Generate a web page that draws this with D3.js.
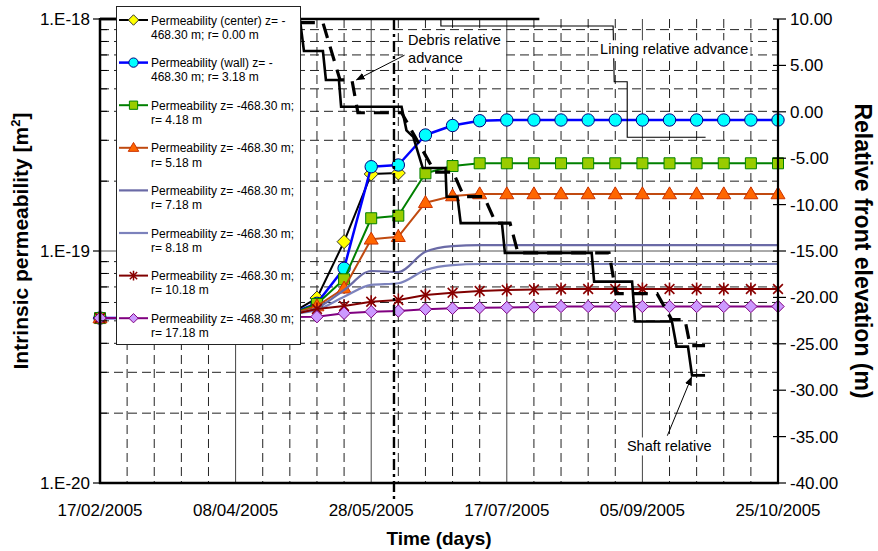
<!DOCTYPE html>
<html><head><meta charset="utf-8">
<script src="https://cdn.jsdelivr.net/npm/d3@7"></script>
<style>
body{margin:0;background:#fff;}
svg{display:block;}
text{font-family:"Liberation Sans",Arial,sans-serif;fill:#000;}
</style>
</head><body>
<svg id="c" width="878" height="551"></svg>
<script>
// ---------------- DATA ----------------
const days = [0,10,20,30,40,50,60,70,80,90,100,110,120,130,140,150,160,170,180,190,200,210,220,230,240,250];
const dateTickDays = [0,50,100,150,200,250];
const dateTickLabels = ["17/02/2005","08/04/2005","28/05/2005","17/07/2005","05/09/2005","25/10/2005"];
const leftTicks = [1e-18,1e-19,1e-20];
const leftTickLabels = ["1.E-18","1.E-19","1.E-20"];
const rightTicks = [10,5,0,-5,-10,-15,-20,-25,-30,-35,-40];

const permCenter = [5.14e-20,5.14e-20,5.14e-20,5.14e-20,5.17e-20,5.195e-20,5.245e-20,5.35e-20,6.27e-20,1.097e-19,2.147e-19,2.168e-19];
const permWall = [5.14e-20,5.14e-20,5.14e-20,5.14e-20,5.17e-20,5.195e-20,5.245e-20,5.35e-20,5.95e-20,8.42e-20,2.308e-19,2.348e-19,3.162e-19,3.475e-19,3.644e-19,3.67e-19,3.67e-19,3.67e-19,3.67e-19,3.67e-19,3.67e-19,3.67e-19,3.67e-19,3.67e-19,3.67e-19,3.67e-19];
const perm418 = [5.14e-20,5.14e-20,5.14e-20,5.14e-20,5.17e-20,5.195e-20,5.245e-20,5.325e-20,5.91e-20,7.55e-20,1.384e-19,1.42e-19,2.162e-19,2.324e-19,2.388e-19,2.388e-19,2.388e-19,2.388e-19,2.388e-19,2.388e-19,2.388e-19,2.388e-19,2.388e-19,2.388e-19,2.388e-19,2.388e-19];
const perm518 = [5.14e-20,5.14e-20,5.14e-20,5.14e-20,5.17e-20,5.195e-20,5.245e-20,5.325e-20,5.79e-20,6.91e-20,1.123e-19,1.152e-19,1.615e-19,1.726e-19,1.761e-19,1.761e-19,1.761e-19,1.761e-19,1.761e-19,1.761e-19,1.761e-19,1.761e-19,1.761e-19,1.761e-19,1.761e-19,1.761e-19];
const perm718 = [5.14e-20,5.14e-20,5.14e-20,5.14e-20,5.17e-20,5.195e-20,5.245e-20,5.35e-20,5.68e-20,6.79e-20,8.20e-20,8.12e-20,9.93e-20,1.05e-19,1.061e-19,1.061e-19,1.061e-19,1.061e-19,1.061e-19,1.061e-19,1.061e-19,1.061e-19,1.061e-19,1.061e-19,1.061e-19,1.061e-19];
const perm818 = [5.14e-20,5.14e-20,5.14e-20,5.14e-20,5.17e-20,5.195e-20,5.245e-20,5.35e-20,5.57e-20,6.35e-20,7.14e-20,7.26e-20,8.28e-20,8.70e-20,8.79e-20,8.79e-20,8.79e-20,8.79e-20,8.79e-20,8.79e-20,8.79e-20,8.79e-20,8.79e-20,8.79e-20,8.79e-20,8.79e-20];
const perm1018 = [5.14e-20,5.14e-20,5.14e-20,5.14e-20,5.154e-20,5.17e-20,5.195e-20,5.30e-20,5.62e-20,5.79e-20,6.045e-20,6.15e-20,6.46e-20,6.61e-20,6.72e-20,6.79e-20,6.82e-20,6.86e-20,6.86e-20,6.86e-20,6.86e-20,6.86e-20,6.86e-20,6.86e-20,6.86e-20,6.86e-20];
const perm1718 = [5.14e-20,5.14e-20,5.14e-20,5.14e-20,5.154e-20,5.17e-20,5.185e-20,5.195e-20,5.21e-20,5.39e-20,5.475e-20,5.51e-20,5.61e-20,5.66e-20,5.70e-20,5.71e-20,5.74e-20,5.765e-20,5.765e-20,5.765e-20,5.765e-20,5.765e-20,5.765e-20,5.765e-20,5.765e-20,5.765e-20];

const shaftDays = [0,73.7,75.2,82.2,83.3,88.1,88.9,111.2,113,115.5,119,127.4,127.8,131.8,133,148.2,149.3,181.3,182.2,196.2,197.3,210.9,212.6,216.8,218.3,223.1];
const shaftElev = [10,10,6.55,6.55,3.43,3.43,0.55,0.55,-2.0,-2.7,-6.06,-6.06,-9.15,-9.15,-12.0,-12.0,-15.2,-15.2,-18.3,-18.3,-22.6,-22.6,-25.3,-25.3,-28.4,-28.4];
const debrisDays = [73.7,82.2,88.5,92.9,95.1,111.2,123.5,130.2,134.2,141.6,146,151.2,154.1,187.7,190.3,205.4,210.8,215.7,217.6,223.1];
const debrisElev = [9.6,9.6,3.43,3.43,-0.1,-0.1,-6.5,-6.5,-9.15,-9.15,-12.0,-12.0,-15.2,-15.2,-19.6,-19.6,-22.4,-22.4,-25.2,-25.2];
const liningDays = [125.7,125.7,189.2,189.6,194.4,194.4,223.3];
const liningElev = [10,9.25,9.25,3.24,3.24,-2.75,-2.75];
const topLineDays = [0,162];
const topLineElev = [10,10];
const eventDay = 108.4;

const legendLabels = [
  ["Permeability (center) z= -","468.30 m; r= 0.00 m"],
  ["Permeability (wall) z= -","468.30 m; r= 3.18 m"],
  ["Permeability z= -468.30 m;","r= 4.18 m"],
  ["Permeability z= -468.30 m;","r= 5.18 m"],
  ["Permeability z= -468.30 m;","r= 7.18 m"],
  ["Permeability z= -468.30 m;","r= 8.18 m"],
  ["Permeability z= -468.30 m;","r= 10.18 m"],
  ["Permeability z= -468.30 m;","r= 17.18 m"]
];

// ---------------- SETUP ----------------
const svg = d3.select("#c");
const L = 100, R = 778, T = 19, B = 483;
const x = d3.scaleLinear().domain([0,250]).range([L,R]);
const yL = d3.scaleLog().domain([1e-20,1e-18]).range([B,T]);
const yR = d3.scaleLinear().domain([-40,10]).range([B,T]);

const series = [
  {vals: permCenter, line:"#000000", w:2, mk:"diamond", fill:"#ffff00", stroke:"#333", size:7},
  {vals: permWall, line:"#0000ff", w:2.5, mk:"circle", fill:"#00ffff", stroke:"#000080", size:6.2},
  {vals: perm418, line:"#008000", w:2, mk:"square", fill:"#99cc00", stroke:"#008000", size:5.5},
  {vals: perm518, line:"#c04a10", w:2, mk:"triangle", fill:"#ff6600", stroke:"#cc3300", size:7},
  {vals: perm718, line:"#6a6aa6", w:2.2, mk:null, curve:true},
  {vals: perm818, line:"#7c82bc", w:2.2, mk:null, curve:true},
  {vals: perm1018, line:"#800000", w:2, mk:"star", fill:"none", stroke:"#8b0000", size:6.5},
  {vals: perm1718, line:"#800080", w:2, mk:"diamond", fill:"#cc99ff", stroke:"#800080", size:6.2}
];

function markerPath(type, s){
  switch(type){
    case "diamond": return `M0,${-s}L${s},0L0,${s}L${-s},0Z`;
    case "circle": { const p=d3.path(); p.arc(0,0,s,0,2*Math.PI); p.closePath(); return p.toString(); }
    case "square": return `M${-s},${-s}H${s}V${s}H${-s}Z`;
    case "triangle": { const h=s*1.7; return `M0,${-h*0.6}L${s},${h*0.4}L${-s},${h*0.4}Z`; }
    case "star": { const d=s*0.75; return `M${-d},${-d}L${d},${d}M${-d},${d}L${d},${-d}M0,${-s}V${s}`; }
  }
  return "";
}

// ---------------- GRID ----------------
const grid = svg.append("g");
const minorVals = [];
[1e-20,1e-19].forEach(dec => { for(let k=2;k<=9;k++) minorVals.push(k*dec); });
grid.selectAll(".hd").data(minorVals).join("line")
  .attr("x1",L).attr("x2",R).attr("y1",d=>yL(d)).attr("y2",d=>yL(d))
  .attr("stroke","#222").attr("stroke-width",1).attr("stroke-dasharray","9,5");
grid.append("line").attr("x1",L).attr("x2",R).attr("y1",yL(1e-19)).attr("y2",yL(1e-19))
  .attr("stroke","#555").attr("stroke-width",1);
const vMinor = days.filter(d => d>0 && d<250 && d%50!==0);
grid.selectAll(".vd").data(vMinor).join("line")
  .attr("x1",d=>x(d)).attr("x2",d=>x(d)).attr("y1",T).attr("y2",B)
  .attr("stroke","#222").attr("stroke-width",1).attr("stroke-dasharray","9,5");
grid.selectAll(".vs").data(dateTickDays.filter(d=>d>0&&d<250)).join("line")
  .attr("x1",d=>x(d)).attr("x2",d=>x(d)).attr("y1",T).attr("y2",B)
  .attr("stroke","#444").attr("stroke-width",1);

// ---------------- PERMEABILITY SERIES ----------------
const gS = svg.append("g");
series.forEach(s => {
  const pts = s.vals.map((v,i)=>[x(days[i]), yL(v)]);
  const ln = d3.line().curve(s.curve ? d3.curveMonotoneX : d3.curveLinear);
  gS.append("path").attr("d", ln(pts)).attr("fill","none")
    .attr("stroke", s.line).attr("stroke-width", s.w).attr("stroke-linejoin","round");
  if(s.mk){
    gS.append("g").selectAll("path").data(pts).join("path")
      .attr("transform", d=>`translate(${d[0]},${d[1]})`)
      .attr("d", markerPath(s.mk, s.size))
      .attr("fill", s.fill).attr("stroke", s.stroke)
      .attr("stroke-width", s.mk==="star"?1.6:1);
  }
});

// ---------------- STEP LINES (right axis) ----------------
const gR = svg.append("g");
const lnR = d3.line();
gR.append("path").attr("d", lnR(topLineDays.map((d,i)=>[x(d), yR(topLineElev[i])])))
  .attr("fill","none").attr("stroke","#000").attr("stroke-width",2.5);
gR.append("path").attr("d", lnR(liningDays.map((d,i)=>[x(d), yR(liningElev[i])])))
  .attr("fill","none").attr("stroke","#000").attr("stroke-width",1.1);
gR.append("path").attr("d", lnR(shaftDays.map((d,i)=>[x(d), yR(shaftElev[i])])))
  .attr("fill","none").attr("stroke","#000").attr("stroke-width",2.6);
gR.append("path").attr("d", lnR(debrisDays.map((d,i)=>[x(d), yR(debrisElev[i])])))
  .attr("fill","none").attr("stroke","#000").attr("stroke-width",3.2).attr("stroke-dasharray","15,9");
svg.append("line").attr("x1",x(eventDay)).attr("x2",x(eventDay)).attr("y1",T).attr("y2",B+18)
  .attr("stroke","#000").attr("stroke-width",2.4).attr("stroke-dasharray","11,4,3,4");

// ---------------- AXES ----------------
const ax = svg.append("g");
ax.append("line").attr("x1",L).attr("x2",L).attr("y1",T-1).attr("y2",B+1).attr("stroke","#000").attr("stroke-width",2.5);
ax.append("line").attr("x1",L-1).attr("x2",R+1).attr("y1",B).attr("y2",B).attr("stroke","#000").attr("stroke-width",2.5);
ax.append("line").attr("x1",R).attr("x2",R).attr("y1",T).attr("y2",B+1).attr("stroke","#000").attr("stroke-width",2.2);
ax.selectAll(".lt").data(leftTicks).join("line")
  .attr("x1",L-7).attr("x2",L).attr("y1",d=>yL(d)).attr("y2",d=>yL(d)).attr("stroke","#000").attr("stroke-width",1.2);
ax.selectAll(".lm").data(minorVals).join("line")
  .attr("x1",L).attr("x2",L+7).attr("y1",d=>yL(d)).attr("y2",d=>yL(d)).attr("stroke","#000").attr("stroke-width",1);
ax.selectAll(".ltl").data(leftTicks).join("text")
  .attr("x",L-10).attr("y",d=>yL(d)+6).attr("text-anchor","end").attr("font-size",17)
  .text((d,i)=>leftTickLabels[i]);
ax.selectAll(".rt").data(rightTicks).join("line")
  .attr("x1",R-5).attr("x2",R+8).attr("y1",d=>yR(d)).attr("y2",d=>yR(d)).attr("stroke","#000").attr("stroke-width",1.2);
ax.selectAll(".rtl").data(rightTicks).join("text")
  .attr("x",R+12).attr("y",d=>yR(d)+6).attr("font-size",17)
  .text(d=>d.toFixed(2));
ax.selectAll(".btl").data(dateTickDays).join("text")
  .attr("x",d=>x(d)).attr("y",516).attr("text-anchor","middle").attr("font-size",17)
  .text((d,i)=>dateTickLabels[i]);
svg.append("text").attr("x",(L+R)/2).attr("y",545).attr("text-anchor","middle")
  .attr("font-size",19).attr("font-weight","bold").text("Time (days)");
const lt = svg.append("text").attr("transform",`translate(28,${(T+B)/2-10}) rotate(-90)`)
  .attr("text-anchor","middle").attr("font-size",21).attr("font-weight","bold");
lt.append("tspan").text("Intrinsic permeability [m");
lt.append("tspan").attr("font-size",13).attr("dy",-8).text("2");
lt.append("tspan").attr("dy",8).text("]");
svg.append("text").attr("transform",`translate(855,${(T+B)/2}) rotate(90)`)
  .attr("text-anchor","middle").attr("font-size",23).attr("font-weight","bold")
  .text("Relative front elevation (m)");

// ---------------- ANNOTATIONS ----------------
const defs = svg.append("defs");
defs.append("marker").attr("id","ah").attr("viewBox","0 0 10 10").attr("refX",9).attr("refY",5)
  .attr("markerWidth",9).attr("markerHeight",9).attr("orient","auto-start-reverse")
  .attr("markerUnits","userSpaceOnUse")
  .append("path").attr("d","M0,1L10,5L0,9Z").attr("fill","#000");
function boxLabel(day, elev, lines){
  const g = svg.append("g");
  const r = g.append("rect").attr("fill","#fff");
  const t = g.append("text").attr("font-size",14.5);
  lines.forEach((s,i)=>t.append("tspan").attr("x",x(day)).attr("y",yR(elev)+i*18.5).text(s));
  const bb = t.node().getBBox();
  r.attr("x",bb.x-2).attr("y",bb.y-1).attr("width",bb.width+4).attr("height",bb.height+2);
}
boxLabel(113.6, 7.2, ["Debris relative","advance"]);
svg.append("line").attr("x1",x(112.3)).attr("y1",yR(6.1)).attr("x2",x(94.6)).attr("y2",yR(3.45))
  .attr("stroke","#000").attr("stroke-width",1).attr("marker-end","url(#ah)");
boxLabel(184.4, 6.2, ["Lining relative advance"]);
boxLabel(194.3, -36.6, ["Shaft relative"]);
svg.append("line").attr("x1",x(209.2)).attr("y1",yR(-34.9)).attr("x2",x(218.1)).attr("y2",yR(-28.6))
  .attr("stroke","#000").attr("stroke-width",1).attr("marker-end","url(#ah)");

// ---------------- LEGEND ----------------
const lg = svg.append("g");
lg.append("rect").attr("x",116.5).attr("y",6.5).attr("width",184).attr("height",338)
  .attr("fill","#fff").attr("stroke","#222").attr("stroke-width",1);
series.forEach((s,i)=>{
  const cy = 20 + i*42.6;
  lg.append("line").attr("x1",119).attr("x2",148).attr("y1",cy).attr("y2",cy)
    .attr("stroke",s.line).attr("stroke-width",s.w);
  if(s.mk){
    lg.append("path").attr("transform",`translate(133.5,${cy})`).attr("d",markerPath(s.mk, s.size*0.75))
      .attr("fill",s.fill).attr("stroke",s.stroke).attr("stroke-width",s.mk==="star"?1.5:1);
  }
  const t = lg.append("text").attr("font-size",12);
  legendLabels[i].forEach((str,j)=>t.append("tspan").attr("x",151).attr("y",cy+4.5+j*14.3).text(str));
});
</script>
</body></html>
